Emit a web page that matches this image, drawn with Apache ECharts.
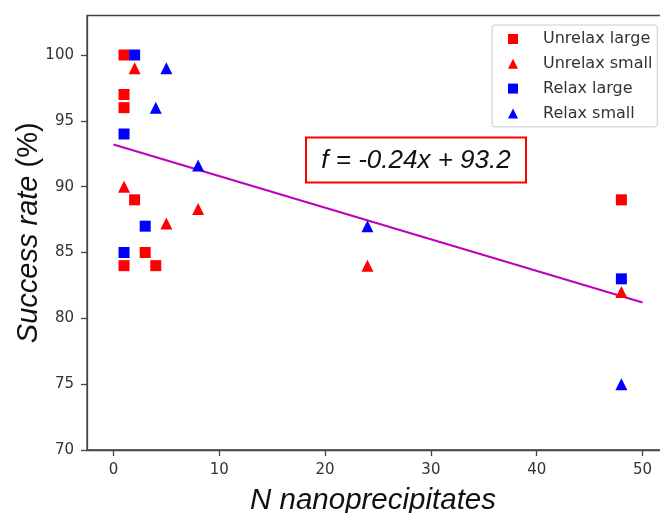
<!DOCTYPE html>
<html>
<head>
<meta charset="utf-8">
<script src="https://cdn.jsdelivr.net/npm/echarts@6/dist/echarts.min.js"></script>
<style>
html,body{margin:0;padding:0;background:#fff;}
#chart{width:660px;height:513px;}
</style>
</head>
<body>
<div id="chart"></div>
<script>
// Data
const unrelaxLarge = [[1,100],[1,97],[1,96],[2,89],[3,85],[1,84],[4,84],[48,89]];
const unrelaxSmall = [[2,99],[1,90],[8,88.3],[5,87.2],[24,84],[48,82]];
const relaxLarge = [[2,100],[1,94],[3,87],[1,85],[48,83]];
const relaxSmall = [[5,99],[4,96],[8,91.6],[24,87],[48,75]];
const fitX = [0, 50];
const fitY = [93.2, 81.2];
const xTicks = [0, 10, 20, 30, 40, 50];
const yTicks = [70, 75, 80, 85, 90, 95, 100];
const fitLabel = 'f = -0.24x + 93.2';

const fitData = fitX.map((x, i) => [x, fitY[i]]);
const chart = echarts.init(document.getElementById('chart'), null, {renderer: 'canvas'});
const axisColor = '#444';
const labelStyle = {fontFamily: 'DejaVu Sans', fontSize: 15, color: '#333'};

function scatter(name, data, symbol, color, size) {
  return {
    name: name, type: 'scatter', data: data, symbol: symbol, symbolSize: size,
    itemStyle: {color: color, opacity: 1}, z: 3, silent: true, animation: false
  };
}

chart.setOption({
  animation: false,
  backgroundColor: '#fff',
  grid: {left: 87, right: -9, top: 15.5, bottom: 63, outerBoundsMode: 'none', containLabel: false,
         show: true, borderColor: axisColor, borderWidth: 1.3, backgroundColor: 'transparent'},
  xAxis: {
    type: 'value', min: -2.5, max: 52.5,
    name: 'N nanoprecipitates', nameLocation: 'middle', nameGap: 36, nameMoveOverlap: false,
    nameTextStyle: {fontFamily: 'Liberation Sans', fontStyle: 'italic', fontSize: 29.5, color: '#111',
                    padding: [0, 10, 0, 0]},
    axisLine: {show: true, onZero: false, lineStyle: {color: axisColor, width: 1.3}},
    axisTick: {show: true, length: 6, customValues: xTicks, lineStyle: {color: axisColor, width: 1.3}},
    axisLabel: Object.assign({margin: 13, customValues: xTicks}, labelStyle),
    splitLine: {show: false}
  },
  yAxis: {
    type: 'value', min: 70, max: 103,
    name: '{i|Success rate} {n|(%)}', nameLocation: 'middle', nameGap: 44, nameMoveOverlap: false,
    nameTextStyle: {
      fontFamily: 'Liberation Sans', fontSize: 29, color: '#111',
      rich: {
        i: {fontFamily: 'Liberation Sans', fontStyle: 'italic', fontSize: 29, color: '#111'},
        n: {fontFamily: 'Liberation Sans', fontSize: 29, color: '#111'}
      }
    },
    axisLine: {show: true, onZero: false, lineStyle: {color: axisColor, width: 1.3}},
    axisTick: {show: true, length: 6, customValues: yTicks, lineStyle: {color: axisColor, width: 1.3}},
    axisLabel: Object.assign({margin: 13, customValues: yTicks}, labelStyle),
    splitLine: {show: false}
  },
  legend: {
    orient: 'vertical', left: 492, top: 25,
    padding: [6, 5, 5.5, 16],
    itemWidth: 10, itemHeight: 10, itemGap: 8.8,
    borderColor: '#cccccc', borderWidth: 1, borderRadius: 3,
    backgroundColor: 'rgba(255,255,255,0.8)',
    textStyle: {fontFamily: 'DejaVu Sans', fontSize: 16, color: '#333', padding: [0, 0, 0, 20]},
    data: [
      {name: 'Unrelax large', icon: 'rect'},
      {name: 'Unrelax small', icon: 'triangle'},
      {name: 'Relax large', icon: 'rect'},
      {name: 'Relax small', icon: 'triangle'}
    ],
    selectedMode: false
  },
  graphic: [{
    type: 'group', left: 305, top: 136.5,
    children: [
      {type: 'rect', shape: {x: 0, y: 0, width: 220, height: 45},
       style: {fill: '#fff', stroke: '#ff0000', lineWidth: 2}},
      {type: 'text', x: 110, y: 23,
       style: {text: fitLabel, fontFamily: 'Liberation Sans', fontStyle: 'italic', fontSize: 26,
               fill: '#111', align: 'center', verticalAlign: 'middle'}}
    ]
  }],
  series: [
    {name: 'fit', type: 'line', data: fitData, symbol: 'none', lineStyle: {color: '#bf00bf', width: 2}, z: 2, silent: true},
    scatter('Unrelax large', unrelaxLarge, 'rect', '#ff0000', 11),
    scatter('Unrelax small', unrelaxSmall, 'triangle', '#ff0000', 12),
    scatter('Relax large', relaxLarge, 'rect', '#0000ff', 11),
    scatter('Relax small', relaxSmall, 'triangle', '#0000ff', 12)
  ]
});
</script>
</body>
</html>
